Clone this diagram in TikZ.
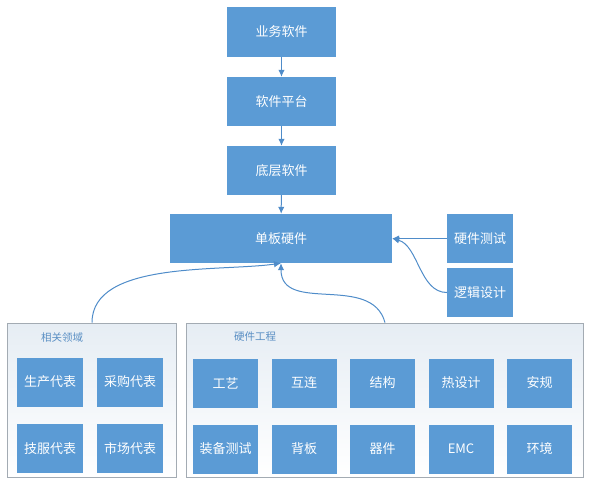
\documentclass[tikz,border=0pt]{standalone}
\usepackage{fontspec}
\setmainfont{Noto Sans CJK SC}
\usetikzlibrary{arrows.meta,calc}
\definecolor{boxblue}{HTML}{5B9BD5}
\definecolor{arrblue}{HTML}{4F8CC9}
\definecolor{framegray}{HTML}{A3ABB3}
\definecolor{frametop}{HTML}{E6EDF4}
\definecolor{titleblue}{HTML}{5A8FC4}
\tikzset{
  bluebox/.style={fill=boxblue, draw=none, text=white, inner sep=0pt, font=\fontsize{13}{15}\selectfont},
  groupframe/.style={draw=framegray, line width=0.8pt, top color=frametop, bottom color=white, inner sep=0pt},
  grouptitle/.style={text=titleblue, font=\fontsize{10.5}{12}\selectfont},
  arr/.style={draw=arrblue, line width=1pt, -{Latex[length=7pt,width=6.5pt]}},
}
\begin{document}
\begin{tikzpicture}[x=1pt,y=-1pt]
\useasboundingbox (0,0) rectangle (591,479);
% top chain
\node[bluebox, minimum width=109pt, minimum height=50pt] (ywrj) at (281.5,32) {业务软件};
\node[bluebox, minimum width=109pt, minimum height=49pt] (rjpt) at (281.5,101.5) {软件平台};
\node[bluebox, minimum width=109pt, minimum height=49pt] (dcrj) at (281.5,170.5) {底层软件};
\node[bluebox, minimum width=222pt, minimum height=49pt] (dbyj) at (281,238.5) {单板硬件};
\node[bluebox, minimum width=66pt, minimum height=49pt] (yjcs) at (480,238.5) {硬件测试};
\node[bluebox, minimum width=66pt, minimum height=49pt] (ljsj) at (480,292.5) {逻辑设计};
% groups
\node[groupframe, minimum width=169pt, minimum height=154pt] (xgly) at (91.5,400) {};
\node[groupframe, minimum width=397pt, minimum height=154pt] (yjgc) at (384.5,400) {};
\node[grouptitle] (xglyt) at (62,338) {相关领域};
\node[grouptitle] (yjgct) at (255,337) {硬件工程};
% left group boxes
\node[bluebox, minimum width=66pt, minimum height=49pt] (sc) at (50,382) {生产代表};
\node[bluebox, minimum width=66pt, minimum height=49pt] (cg) at (130,382) {采购代表};
\node[bluebox, minimum width=66pt, minimum height=49pt] (jf) at (50,448.5) {技服代表};
\node[bluebox, minimum width=66pt, minimum height=49pt] (sch) at (130,448.5) {市场代表};
% right group boxes
\node[bluebox, minimum width=65pt, minimum height=49pt] (gy) at (225.5,383) {工艺};
\node[bluebox, minimum width=65pt, minimum height=49pt] (hl) at (304,383) {互连};
\node[bluebox, minimum width=65pt, minimum height=49pt] (jg) at (382.5,383) {结构};
\node[bluebox, minimum width=65pt, minimum height=49pt] (rsj) at (461,383) {热设计};
\node[bluebox, minimum width=65pt, minimum height=49pt] (ag) at (539.5,383) {安规};
\node[bluebox, minimum width=65pt, minimum height=49pt] (zbcs) at (225.5,449) {装备测试};
\node[bluebox, minimum width=65pt, minimum height=49pt] (bb) at (304,449) {背板};
\node[bluebox, minimum width=65pt, minimum height=49pt] (qj) at (382.5,449) {器件};
\node[bluebox, minimum width=65pt, minimum height=49pt] (emc) at (461,449) {EMC};
\node[bluebox, minimum width=65pt, minimum height=49pt] (hj) at (539.5,449) {环境};
% arrows
\draw[arr] (ywrj) -- (rjpt);
\draw[arr] (rjpt) -- (dcrj);
\draw[arr] (dcrj) -- (dbyj);
\draw[arr] (yjcs) -- (dbyj);
\draw[arr] (ljsj.west) to[out=180, in=-15, looseness=0.9] (dbyj.east);
\coordinate (lstart) at (xgly.north -| 92,0);
\coordinate (rstart) at (yjgc.north -| 385,0);
\draw[arr] (lstart) to[out=90, in=188, looseness=0.8] (dbyj.south);
\draw[arr] (rstart) to[out=105, in=-90, looseness=1.1] (dbyj.south);
\end{tikzpicture}
\end{document}
